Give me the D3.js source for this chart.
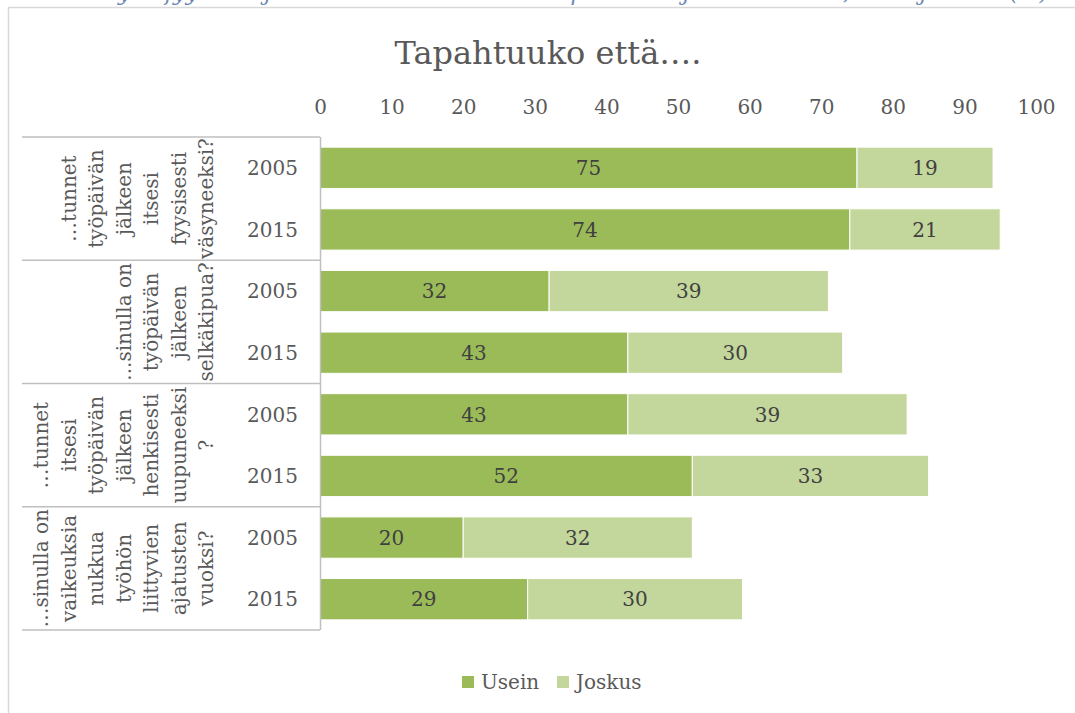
<!DOCTYPE html>
<html>
<head>
<meta charset="utf-8">
<script src="https://cdn.jsdelivr.net/npm/d3@7/dist/d3.min.js"></script>
<style>
  html, body { margin: 0; padding: 0; background: #fff; }
  svg { display: block; }
  text { font-family: "DejaVu Serif", "Liberation Serif", serif; }
</style>
</head>
<body>
<svg id="chart" width="1075" height="713"></svg>
<script>
// Survey questions (multi-line labels) and the years asked
const questions = [
  ["…tunnet", "työpäivän", "jälkeen", "itsesi", "fyysisesti", "väsyneeksi?"],
  ["...sinulla on", "työpäivän", "jälkeen", "selkäkipua?"],
  ["…tunnet", "itsesi", "työpäivän", "jälkeen", "henkisesti", "uupuneeksi", "?"],
  ["…sinulla on", "vaikeuksia", "nukkua", "työhön", "liittyvien", "ajatusten", "vuoksi?"]
];
const years = ["2005", "2015"];

// Shares (%) for each question × year, in row order
const usein  = [75, 74, 32, 43, 43, 52, 20, 29];
const joskus = [19, 21, 39, 30, 39, 33, 32, 30];

const xTicks = [0, 10, 20, 30, 40, 50, 60, 70, 80, 90, 100];
const seriesNames = ["Usein", "Joskus"];
const seriesColors = ["#9bbb59", "#c3d69b"];

const svg = d3.select("#chart");
const textColor = "#595959";
const gridColor = "#bfbfbf";
const fs = 20;

// Caption line above the chart frame (runs off the top edge)
svg.append("text")
  .attr("x", 1048).attr("y", 0)
  .attr("text-anchor", "end")
  .attr("font-size", 22)
  .attr("font-style", "italic")
  .attr("fill", "#2e5395")
  .attr("opacity", 0.7)
  .text("Kuvio 12. Työn fyysinen ja henkinen kuormittavuus palkansaajilla Suomessa, 2005 ja 2015 (%)");

// Chart frame
svg.append("rect")
  .attr("x", 8.5).attr("y", 7.5)
  .attr("width", 1100).attr("height", 760)
  .attr("fill", "#fff")
  .attr("stroke", "#d9d9d9").attr("stroke-width", 1.5);

// Title
svg.append("text")
  .attr("x", 548).attr("y", 64)
  .attr("text-anchor", "middle")
  .attr("font-size", 32)
  .attr("fill", textColor)
  .text("Tapahtuuko että….");

const rows = [];
questions.forEach((q, qi) => years.forEach((y, yi) => rows.push({ q: qi, year: y, i: qi * years.length + yi })));

const x = d3.scaleLinear().domain([0, 100]).range([320, 1036]);
const y = d3.scaleBand()
  .domain(rows.map(r => r.i))
  .range([137, 630])
  .paddingInner(0.33)
  .paddingOuter(0.165);

// Top value axis
const xAxis = d3.axisTop(x).tickValues(xTicks).tickSize(0).tickPadding(0);
const ax = svg.append("g").attr("transform", "translate(0,114)").call(xAxis);
ax.select(".domain").remove();
ax.selectAll("text")
  .attr("font-family", "DejaVu Serif, serif")
  .attr("font-size", fs)
  .attr("fill", textColor);

// Stacked bars
const stackData = rows.map(r => ({ i: r.i, Usein: usein[r.i], Joskus: joskus[r.i] }));
const stacked = d3.stack().keys(seriesNames)(stackData);

const layers = svg.append("g").selectAll("g")
  .data(stacked)
  .join("g")
  .attr("fill", (d, k) => seriesColors[k]);

layers.selectAll("rect")
  .data(d => d)
  .join("rect")
  .attr("x", d => x(d[0]))
  .attr("y", d => y(d.data.i))
  .attr("width", d => x(d[1]) - x(d[0]))
  .attr("height", y.bandwidth())
  .attr("stroke", "#ffffff")
  .attr("stroke-width", 1);

// Value labels centred on each segment
layers.selectAll("text")
  .data(d => d)
  .join("text")
  .attr("x", d => (x(d[0]) + x(d[1])) / 2)
  .attr("y", d => y(d.data.i) + y.bandwidth() / 2)
  .attr("dy", "0.36em")
  .attr("text-anchor", "middle")
  .attr("font-size", fs)
  .attr("fill", "#404040")
  .text(d => d[1] - d[0]);

// Category table on the left
const groupH = (630 - 137) / questions.length;
const cat = svg.append("g");

cat.append("line")
  .attr("x1", 320.5).attr("x2", 320.5).attr("y1", 137).attr("y2", 630)
  .attr("stroke", gridColor).attr("stroke-width", 1.5);

d3.range(questions.length + 1).forEach(k => {
  cat.append("line")
    .attr("x1", 22).attr("x2", 320)
    .attr("y1", 137 + k * groupH).attr("y2", 137 + k * groupH)
    .attr("stroke", gridColor).attr("stroke-width", 1.5);
});

// Year labels
cat.selectAll("text.year")
  .data(rows)
  .join("text")
  .attr("class", "year")
  .attr("x", 298)
  .attr("y", d => y(d.i) + y.bandwidth() / 2)
  .attr("dy", "0.36em")
  .attr("text-anchor", "end")
  .attr("font-size", fs)
  .attr("fill", textColor)
  .text(d => d.year);

// Rotated question labels, lines stacked left to right, last line at fixed column
const lineGap = 27.5;
const lastCol = 206;
questions.forEach((q, qi) => {
  const cy = 137 + (qi + 0.5) * groupH;
  q.forEach((line, li) => {
    const cx = lastCol - (q.length - 1 - li) * lineGap;
    cat.append("text")
      .attr("transform", `translate(${cx},${cy}) rotate(-90)`)
      .attr("text-anchor", "middle")
      .attr("dy", "0.36em")
      .attr("font-size", fs)
      .attr("fill", textColor)
      .text(line);
  });
});

// Legend
const legend = svg.append("g");
const legendItems = [
  { name: seriesNames[0], color: seriesColors[0], x: 462 },
  { name: seriesNames[1], color: seriesColors[1], x: 557 }
];
legendItems.forEach(it => {
  legend.append("rect")
    .attr("x", it.x).attr("y", 676)
    .attr("width", 12).attr("height", 12)
    .attr("fill", it.color);
  legend.append("text")
    .attr("x", it.x + 19).attr("y", 682)
    .attr("dy", "0.36em")
    .attr("font-size", fs)
    .attr("fill", textColor)
    .text(it.name);
});
</script>
</body>
</html>
